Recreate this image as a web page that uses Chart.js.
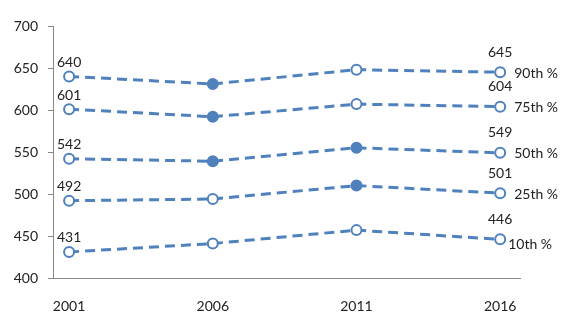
<!DOCTYPE html>
<html>
<head>
<meta charset="utf-8">
<script src="https://cdn.jsdelivr.net/npm/chart.js@4"></script>
<style>
  html, body { margin: 0; padding: 0; background: #fff; }
  #wrap { width: 576px; height: 320px; }
</style>
</head>
<body>
<div id="wrap"><canvas id="chart" width="576" height="320"></canvas></div>
<script>
// years on the x axis
const years = [2001, 2006, 2011, 2016];
const yTicks = [400, 450, 500, 550, 600, 650, 700];

// percentile series, top to bottom
const seriesNames = ['90th %', '75th %', '50th %', '25th %', '10th %'];
const p90 = [640, 631, 648, 645];
const p75 = [601, 592, 607, 604];
const p50 = [542, 539, 555, 549];
const p25 = [492, 494, 510, 501];
const p10 = [431, 441, 457, 446];

// which markers are filled (true) vs hollow
const filled90 = [false, true, false, false];
const filled75 = [false, true, false, false];
const filled50 = [false, true, true, false];
const filled25 = [false, false, true, false];
const filled10 = [false, false, false, false];

const blue = '#4f81bd';
const font = 'Lato, "Open Sans", sans-serif';

function makeSet(name, vals, fills) {
  return {
    label: name,
    data: vals.map((v, i) => ({ x: years[i], y: v })),
    borderColor: blue,
    borderWidth: 3,
    borderDash: [10, 6],
    pointRadius: 5,
    pointHoverRadius: 5,
    pointBorderWidth: 2,
    pointBorderColor: blue,
    pointBackgroundColor: fills.map(f => f ? blue : '#fff'),
    tension: 0,
    clip: false
  };
}

// draws the values at first/last points and the series name on the right
const endLabels = {
  id: 'endLabels',
  afterDatasetsDraw(chart) {
    const ctx = chart.ctx;
    ctx.save();
    ctx.font = '14px ' + font;
    ctx.fillStyle = '#222';
    chart.data.datasets.forEach((ds, di) => {
      const pts = chart.getDatasetMeta(di).data;
      const first = pts[0], last = pts[pts.length - 1];
      ctx.textAlign = 'center';
      ctx.textBaseline = 'middle';
      ctx.fillText(ds.data[0].y, first.x, first.y - 14);
      ctx.fillText(ds.data[pts.length - 1].y, last.x, last.y - 20);
      ctx.textAlign = 'left';
      if (di === chart.data.datasets.length - 1) {
        ctx.fillText(ds.label, last.x + 8, last.y + 5);
      } else {
        ctx.fillText(ds.label, last.x + 14, last.y + 1);
      }
    });
    ctx.restore();
  }
};

new Chart(document.getElementById('chart'), {
  type: 'line',
  data: {
    datasets: [
      makeSet(seriesNames[0], p90, filled90),
      makeSet(seriesNames[1], p75, filled75),
      makeSet(seriesNames[2], p50, filled50),
      makeSet(seriesNames[3], p25, filled25),
      makeSet(seriesNames[4], p10, filled10)
    ]
  },
  options: {
    responsive: false,
    animation: false,
    layout: { padding: { top: 26, right: 56, left: 0, bottom: 0 } },
    plugins: { legend: { display: false }, tooltip: { enabled: false } },
    scales: {
      x: {
        type: 'linear',
        min: 2000.44,
        max: 2016.69,
        afterBuildTicks: s => { s.ticks = years.map(v => ({ value: v })); },
        afterFit: s => { s.height = 42; },
        grid: { display: false },
        border: { display: true, color: '#888', width: 1 },
        ticks: { color: '#222', font: { family: font, size: 14 }, padding: 12, maxRotation: 0,
                 callback: v => String(v) }
      },
      y: {
        min: 400,
        max: 700,
        afterBuildTicks: s => { s.ticks = yTicks.map(v => ({ value: v })); },
        afterFit: s => { s.width = 53; },
        grid: { drawOnChartArea: false, drawTicks: true, tickLength: 5, color: '#888' },
        border: { display: true, color: '#888', width: 1 },
        ticks: { color: '#222', font: { family: font, size: 14 }, padding: 10 }
      }
    }
  },
  plugins: [endLabels]
});
</script>
</body>
</html>
